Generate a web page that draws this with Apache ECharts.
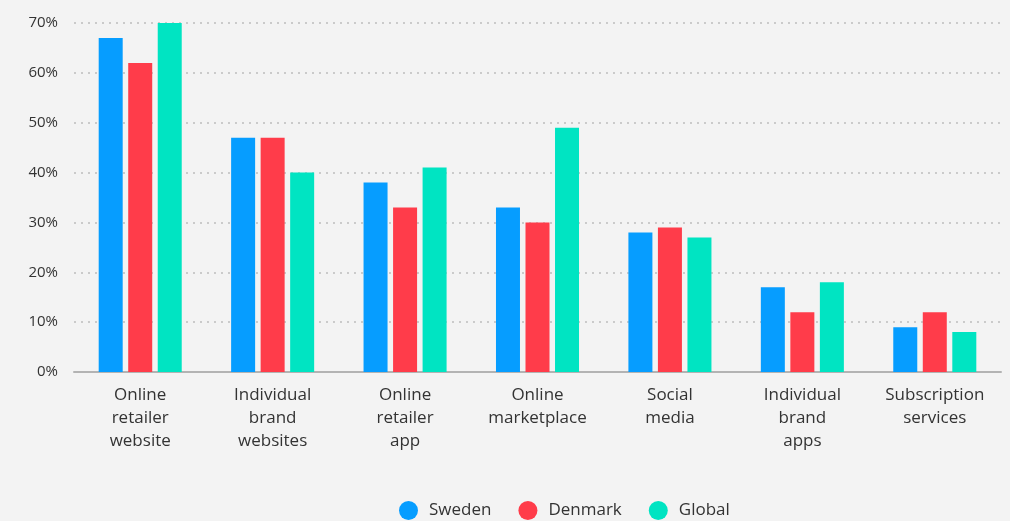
<!DOCTYPE html>
<html>
<head>
<meta charset="utf-8">
<script src="https://cdn.jsdelivr.net/npm/echarts@6/dist/echarts.min.js"></script>
<style>
  html, body { margin: 0; padding: 0; background: #f3f3f3; }
  #chart { width: 1010px; height: 521px; }
</style>
</head>
<body>
<div id="chart"></div>
<script>
// Shopping channels used, share of respondents (%)
const categories = [
  'Online\nretailer\nwebsite',
  'Individual\nbrand\nwebsites',
  'Online\nretailer\napp',
  'Online\nmarketplace',
  'Social\nmedia',
  'Individual\nbrand\napps',
  'Subscription\nservices'
];
const sweden  = [67, 47, 38, 33, 28, 17, 9];
const denmark = [62, 47, 33, 30, 29, 12, 12];
const global  = [70, 40, 41, 49, 27, 18, 8];

const seriesNames = ['Sweden', 'Denmark', 'Global'];
const seriesColors = ['#069dff', '#ff3c4a', '#00e4c2'];
const seriesData = [sweden, denmark, global];

const FONT = '"Open Sans", Lato, sans-serif';

const chart = echarts.init(document.getElementById('chart'), null, { renderer: 'canvas' });
chart.setOption({
  backgroundColor: '#f3f3f3',
  animation: false,
  textStyle: { fontFamily: FONT },
  grid: { left: 74, right: 9, top: 23, bottom: 149 },
  legend: {
    top: 501,
    left: 399,
    padding: 0,
    icon: 'circle',
    itemWidth: 19,
    itemHeight: 19,
    itemGap: 27,
    textStyle: { fontSize: 17, color: '#333', fontFamily: FONT, padding: [0, 0, 0, 6] },
    data: seriesNames
  },
  xAxis: {
    type: 'category',
    data: categories,
    axisLine: { lineStyle: { color: '#b3b3b3', width: 2 } },
    axisTick: { show: false },
    axisLabel: {
      interval: 0,
      color: '#333',
      fontSize: 17,
      lineHeight: 23,
      margin: 12,
      fontFamily: FONT
    }
  },
  yAxis: {
    type: 'value',
    min: 0,
    max: 70,
    interval: 10,
    axisLine: { show: false },
    axisTick: { show: false },
    axisLabel: {
      formatter: '{value}%',
      color: '#333',
      fontSize: 15,
      margin: 16,
      fontFamily: FONT
    },
    splitLine: {
      lineStyle: { color: '#bdbdbd', type: [2, 5], width: 1.5 }
    }
  },
  series: seriesNames.map((name, i) => ({
    name: name,
    type: 'bar',
    data: seriesData[i],
    barWidth: 24,
    barGap: '23%',
    itemStyle: { color: seriesColors[i] }
  }))
});
</script>
</body>
</html>
